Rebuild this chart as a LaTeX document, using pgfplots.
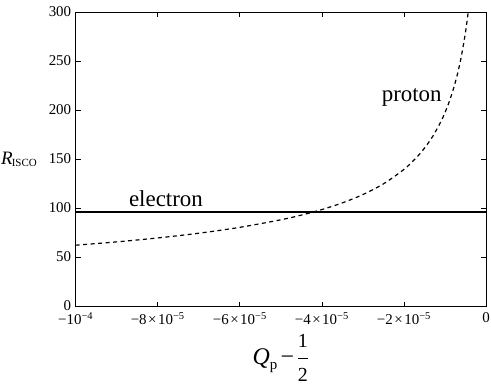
\documentclass[border=0pt]{standalone}
\usepackage{fontspec}
\setmainfont{Liberation Serif}
\usepackage{pgfplots}
\pgfplotsset{compat=1.18}
\usetikzlibrary{calc}
\newcommand{\sep}{\hspace{1.5bp}×\hspace{1.5bp}}
\begin{document}
\begin{tikzpicture}
\begin{axis}[
  scale only axis, width=410.3bp, height=294.3bp,
  xmin=-100, xmax=0, ymin=0, ymax=300,
  xtick={-100,-80,-60,-40,-20,0},
  xticklabels={{−10\textsuperscript{−4}},{−8\sep10\textsuperscript{−5}},{−6\sep10\textsuperscript{−5}},{−4\sep10\textsuperscript{−5}},{−2\sep10\textsuperscript{−5}},0},
  ytick={0,50,100,150,200,250,300},
  tick label style={font=\fontsize{15}{16}\selectfont},
  /pgf/number format/assume math mode=true,
  axis line style={line width=0.9bp},
  major tick length=5bp,
  tick style={line width=0.7bp, black},
  xticklabel style={yshift=-2.5bp},
  yticklabel style={xshift=-1bp, yshift=1bp},
]
\addplot[black, line width=1.4bp] coordinates {(-100,96.3) (0,96.3)};
\addplot[black, line width=1.2bp, dash pattern=on 4bp off 3.5bp, smooth] coordinates {
(-100,62.5) (-90,65.88) (-80,69.88) (-70,74.70) (-60,80.69) (-50,88.39) (-45,93.17)
(-40,98.82) (-35,105.65) (-30,114.11) (-25,125.0) (-20,139.75) (-17,151.6) (-15,161.4)
(-13,173.3) (-11,188.4) (-10,197.6) (-9,208.3) (-8,220.97) (-7,236.2) (-6,255.2)
(-5,279.5) (-4.34,300)};
\node[anchor=base, font=\fontsize{23}{26}\selectfont] at (axis cs:-78,102.3) {electron};
\node[anchor=base, font=\fontsize{23}{26}\selectfont] at (axis cs:-18.1,208.8) {proton};
\end{axis}
\node[anchor=east, inner sep=0pt, xshift=-38.7bp] at (current axis.west) {\fontsize{19}{24}\selectfont\itshape R\kern-0.8bp\raisebox{-1.5bp}{\upshape\fontsize{11}{14}\selectfont ISCO}};
\node[anchor=center, inner sep=0pt, yshift=-51.5bp] at (current axis.south) {\fontsize{24}{28}\selectfont $\mbox{\itshape Q}_{\mbox{\fontsize{15}{16}\selectfont p}}\mkern2mu\mbox{−}\mkern2mu\displaystyle\frac{\mbox{\fontsize{20}{22}\selectfont 1}}{\mbox{\fontsize{20}{22}\selectfont 2}}$};
\pgfresetboundingbox
\path ($(current axis.south west)+(-75.7bp,-78.5bp)$) rectangle ($(current axis.north east)+(5bp,12.2bp)$);
\end{tikzpicture}
\end{document}
